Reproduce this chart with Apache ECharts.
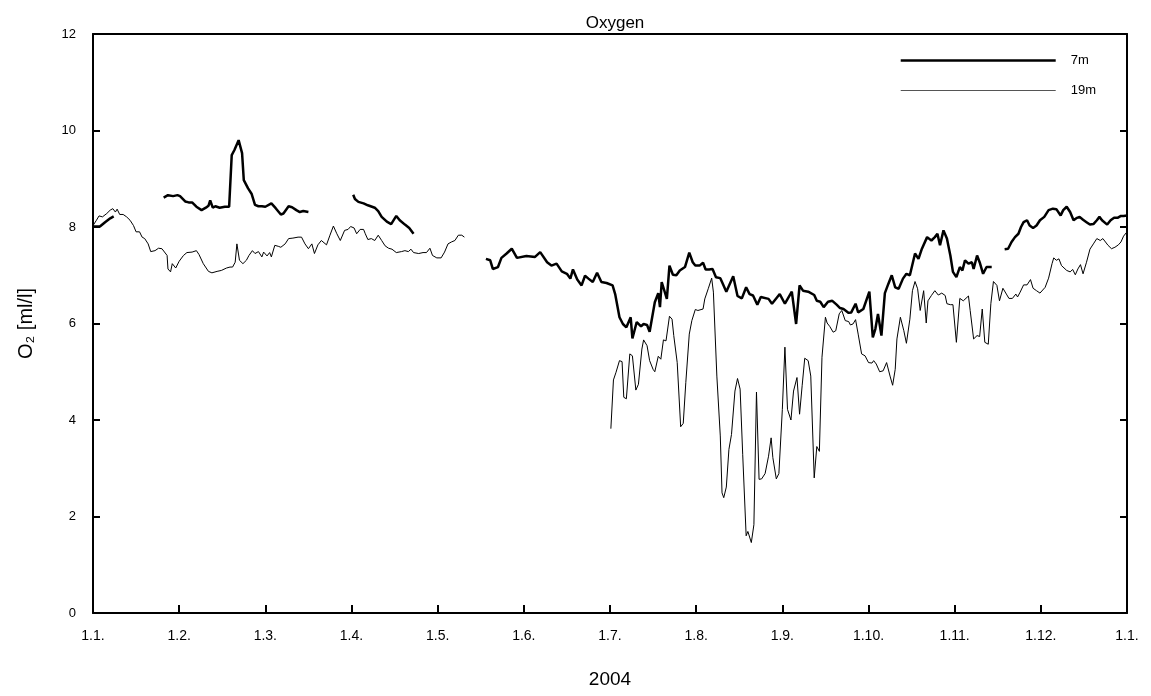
<!DOCTYPE html>
<html>
<head>
<meta charset="utf-8">
<script src="https://cdn.jsdelivr.net/npm/echarts@6/dist/echarts.min.js"></script>
<style>html,body{margin:0;padding:0;background:#fff;}#chart{width:1151px;height:696px;}</style>
</head>
<body>
<div id="chart"></div>
<script>
// x positions are in months since 1 Jan 2004 (axis is evenly spaced by month)
const monthLabels = ['1.1.','1.2.','1.3.','1.4.','1.5.','1.6.','1.7.','1.8.','1.9.','1.10.','1.11.','1.12.','1.1.'];
const yTicks = [0, 2, 4, 6, 8, 10, 12];

// 7 m depth (null = gap in record)
const t7 = [0.00,0.08,0.14,0.20,0.24, 0.50,
 0.82,0.87,0.93,0.98,1.01,1.07,1.11,1.15,1.20,1.26,1.31,1.34,1.36,1.39,1.42,1.47,1.53,1.58,1.61,1.64,1.69,1.73,1.75,1.80,1.84,1.88,1.92,1.96,2.00,2.07,2.12,2.18,2.21,2.27,2.31,2.36,2.40,2.44,2.50, 2.75,
 3.02,3.04,3.08,3.14,3.19,3.27,3.31,3.35,3.41,3.46,3.52,3.56,3.62,3.67,3.72, 4.10,
 4.56,4.61,4.64,4.70,4.74,4.80,4.86,4.92,5.03,5.13,5.19,5.27,5.32,5.38,5.44,5.50,5.54,5.57,5.62,5.67,5.71,5.75,5.80,5.85,5.90,5.96,6.03,6.06,6.11,6.15,6.19,6.24,6.26,6.31,6.36,6.39,6.43,6.46,6.52,6.56,6.58,6.60,6.66,6.69,6.73,6.77,6.81,6.87,6.92,6.96,6.99,7.01,7.04,7.08,7.11,7.15,7.19,7.23,7.28,7.30,7.35,7.43,7.48,7.53,7.58,7.62,7.66,7.71,7.75,7.84,7.88,7.97,8.03,8.11,8.16,8.20,8.24,8.30,8.37,8.40,8.44,8.48,8.53,8.58,8.63,8.67,8.71,8.77,8.80,8.85,8.88,8.94,9.01,9.05,9.08,9.11,9.15,9.19,9.23,9.27,9.31,9.35,9.40,9.44,9.48,9.54,9.58,9.62,9.68,9.73,9.77,9.80,9.83,9.87,9.91,9.95,9.98,10.02,10.06,10.09,10.12,10.16,10.20,10.22,10.26,10.29,10.33,10.37,10.43, 10.50,
 10.58,10.62,10.66,10.70,10.74,10.77,10.80,10.84,10.87,10.91,10.95,10.99,11.04,11.09,11.14,11.18,11.23,11.26,11.30,11.34,11.38,11.42,11.45,11.49,11.53,11.57,11.61,11.65,11.68,11.71,11.73,11.77,11.81,11.85,11.89,11.93,11.96,12.00];
const o2_7m = [8.01,8.01,8.10,8.18,8.22, null,
 8.61,8.66,8.64,8.66,8.64,8.53,8.51,8.51,8.42,8.35,8.40,8.44,8.55,8.40,8.43,8.40,8.42,8.42,9.49,9.59,9.80,9.53,8.97,8.80,8.69,8.46,8.43,8.43,8.42,8.49,8.39,8.26,8.28,8.43,8.41,8.35,8.31,8.33,8.31, null,
 8.67,8.58,8.52,8.49,8.45,8.40,8.33,8.21,8.11,8.06,8.23,8.14,8.05,7.98,7.86, null,
 7.34,7.31,7.13,7.17,7.36,7.45,7.55,7.36,7.40,7.38,7.48,7.27,7.20,7.24,7.08,7.03,6.93,7.12,6.91,6.79,6.99,6.93,6.86,7.05,6.86,6.84,6.79,6.61,6.13,5.99,5.92,6.13,5.69,6.03,5.94,5.99,5.97,5.83,6.44,6.63,6.34,6.86,6.51,7.20,7.01,7.00,7.10,7.17,7.47,7.27,7.20,7.24,7.20,7.26,7.12,7.12,7.13,6.96,6.94,6.86,6.66,6.98,6.57,6.52,6.75,6.61,6.58,6.39,6.55,6.51,6.41,6.61,6.41,6.66,5.99,6.79,6.68,6.66,6.59,6.47,6.45,6.34,6.45,6.47,6.39,6.32,6.30,6.22,6.23,6.41,6.23,6.30,6.66,5.71,5.89,6.20,5.75,6.63,6.82,7.00,6.75,6.72,6.93,7.03,7.00,7.45,7.34,7.55,7.79,7.72,7.79,7.86,7.62,7.93,7.76,7.41,7.07,6.96,7.17,7.10,7.31,7.24,7.27,7.13,7.41,7.27,7.03,7.17,7.17, null,
 7.54,7.55,7.69,7.79,7.86,8.00,8.10,8.14,8.03,7.98,8.03,8.14,8.21,8.35,8.38,8.37,8.24,8.35,8.42,8.31,8.14,8.19,8.21,8.15,8.10,8.05,8.06,8.14,8.21,8.14,8.16,8.05,8.14,8.19,8.19,8.23,8.23,8.24];

// 19 m depth
const t19 = [0.00,0.04,0.07,0.11,0.16,0.20,0.23,0.26,0.28,0.31,0.35,0.39,0.43,0.47,0.50,0.54,0.57,0.60,0.64,0.67,0.72,0.76,0.80,0.82,0.86,0.87,0.90,0.92,0.96,1.00,1.05,1.09,1.15,1.20,1.23,1.28,1.34,1.38,1.44,1.49,1.55,1.59,1.62,1.65,1.67,1.70,1.74,1.78,1.81,1.85,1.88,1.92,1.96,1.98,2.02,2.05,2.07,2.11,2.15,2.18,2.23,2.27,2.32,2.38,2.42,2.46,2.50,2.54,2.57,2.61,2.65,2.67,2.71,2.75,2.79,2.83,2.87,2.89,2.92,2.96,2.99,3.03,3.06,3.10,3.14,3.16,3.19,3.23,3.27,3.31,3.35,3.39,3.43,3.47,3.52,3.58,3.62,3.66,3.69,3.72,3.74,3.78,3.83,3.87,3.91,3.94,3.99,4.04,4.08,4.12,4.16,4.20,4.24,4.28,4.31, 5.00,
 6.01,6.04,6.07,6.11,6.14,6.16,6.19,6.23,6.26,6.30,6.33,6.37,6.39,6.43,6.46,6.50,6.52,6.56,6.59,6.62,6.65,6.69,6.72,6.74,6.78,6.82,6.85,6.88,6.92,6.95,6.99,7.02,7.08,7.10,7.14,7.18,7.20,7.24,7.28,7.30,7.32,7.35,7.38,7.41,7.45,7.48,7.51,7.54,7.58,7.60,7.64,7.67,7.70,7.73,7.76,7.80,7.84,7.87,7.89,7.93,7.96,8.00,8.03,8.06,8.10,8.13,8.17,8.20,8.23,8.26,8.30,8.33,8.37,8.40,8.43,8.46,8.50,8.52,8.55,8.59,8.62,8.66,8.69,8.73,8.77,8.79,8.82,8.85,8.88,8.92,8.96,9.00,9.04,9.06,9.09,9.13,9.17,9.21,9.25,9.28,9.31,9.33,9.37,9.41,9.44,9.48,9.51,9.54,9.57,9.60,9.64,9.67,9.69,9.73,9.77,9.81,9.85,9.89,9.91,9.95,9.98,10.02,10.06,10.10,10.12,10.16,10.18,10.22,10.26,10.29,10.32,10.35,10.39,10.42,10.45,10.49,10.52,10.56,10.60,10.63,10.67,10.71,10.73,10.76,10.80,10.84,10.88,10.91,10.95,10.99,11.05,11.09,11.13,11.15,11.18,11.21,11.24,11.26,11.30,11.34,11.37,11.40,11.43,11.46,11.49,11.53,11.57,11.61,11.65,11.69,11.72,11.78,11.82,11.86,11.90,11.93,11.96,12.00];
const o2_19m = [8.03,8.14,8.23,8.21,8.28,8.35,8.38,8.31,8.37,8.26,8.26,8.21,8.14,8.03,7.90,7.90,7.79,7.76,7.65,7.49,7.51,7.56,7.55,7.54,7.41,7.13,7.07,7.24,7.15,7.29,7.41,7.47,7.48,7.51,7.43,7.24,7.08,7.05,7.08,7.10,7.15,7.17,7.17,7.27,7.65,7.31,7.24,7.31,7.41,7.51,7.45,7.49,7.38,7.48,7.40,7.47,7.38,7.62,7.60,7.58,7.65,7.76,7.77,7.79,7.79,7.65,7.55,7.65,7.45,7.63,7.72,7.72,7.63,7.83,8.02,7.86,7.72,7.70,7.93,7.95,8.01,7.98,7.86,7.95,7.95,7.86,7.74,7.76,7.72,7.83,7.72,7.61,7.56,7.54,7.47,7.49,7.51,7.49,7.54,7.47,7.49,7.45,7.47,7.47,7.56,7.41,7.36,7.36,7.48,7.65,7.69,7.72,7.83,7.83,7.79, null,
 3.82,4.83,4.99,5.23,5.21,4.47,4.44,5.37,5.33,4.62,4.74,5.47,5.66,5.54,5.23,5.05,5.00,5.32,5.26,5.66,5.64,6.15,6.09,5.75,5.19,3.86,3.93,4.78,5.78,6.06,6.29,6.27,6.30,6.51,6.72,6.94,6.65,4.91,3.67,2.49,2.39,2.61,3.39,3.70,4.60,4.86,4.64,3.29,1.60,1.69,1.46,1.83,4.58,2.77,2.78,2.89,3.25,3.63,3.22,2.78,2.89,4.22,5.51,4.22,4.00,4.60,4.88,4.12,4.71,5.28,5.23,4.91,2.80,3.45,3.35,5.30,6.13,6.01,5.94,5.82,5.85,6.20,6.27,6.06,6.04,5.97,5.99,6.08,5.78,5.37,5.33,5.19,5.18,5.23,5.16,5.00,5.02,5.19,4.91,4.72,5.05,5.68,6.13,5.85,5.59,6.09,6.68,6.87,6.72,6.27,6.68,6.01,6.47,6.58,6.68,6.59,6.63,6.58,6.41,6.39,6.39,5.61,6.52,6.47,6.51,6.57,6.27,5.68,5.75,5.73,6.30,5.61,5.57,6.41,6.87,6.79,6.47,6.73,6.61,6.52,6.52,6.61,6.55,6.65,6.80,6.80,6.91,6.73,6.68,6.63,6.75,6.94,7.24,7.36,7.31,7.34,7.20,7.24,7.10,7.07,7.12,7.01,7.13,7.22,7.03,7.27,7.54,7.65,7.76,7.72,7.76,7.62,7.55,7.58,7.63,7.69,7.81,7.90];

const FONT = "'Liberation Sans', Arial, sans-serif";
const pairs = (t, v) => t.map((x, i) => [x, v[i]]);

const chart = echarts.init(document.getElementById('chart'), null, {renderer: 'canvas'});
chart.setOption({
  animation: false,
  backgroundColor: '#fff',
  textStyle: {fontFamily: FONT, color: '#000'},
  title: {
    text: 'Oxygen', left: 610, top: 10, textAlign: 'center',
    textStyle: {fontFamily: FONT, fontSize: 17, fontWeight: 'normal', color: '#000'}
  },
  legend: {
    orient: 'vertical', right: 50, top: 49,
    itemWidth: 155, itemHeight: 12, itemGap: 17,
    itemStyle: {opacity: 0},
    textStyle: {fontFamily: FONT, fontSize: 13, color: '#000', padding: [0, 0, 0, 10]},
    data: [
      {name: '7m', lineStyle: {color: '#000', width: 2.5}},
      {name: '19m', lineStyle: {color: '#555', width: 1}}
    ]
  },
  grid: {left: 93, right: 24, top: 34, bottom: 83},
  xAxis: [{
    type: 'value', min: 0, max: 12, interval: 1, position: 'bottom',
    name: '2004', nameLocation: 'middle', nameGap: 57,
    nameTextStyle: {fontFamily: FONT, fontSize: 19, color: '#000'},
    axisLine: {show: true, onZero: false, lineStyle: {color: '#000', width: 2}},
    axisTick: {show: true, inside: true, length: 8, lineStyle: {color: '#000', width: 2}},
    axisLabel: {
      margin: 16, fontFamily: FONT, fontSize: 14, color: '#000',
      showMinLabel: true, showMaxLabel: true,
      formatter: v => monthLabels[Math.round(v)]
    },
    splitLine: {show: false}
  }, {
    type: 'value', min: 0, max: 12, position: 'top',
    axisLine: {show: true, onZero: false, lineStyle: {color: '#000', width: 2}},
    axisTick: {show: false}, axisLabel: {show: false}, splitLine: {show: false}
  }],
  yAxis: [{
    type: 'value', min: yTicks[0], max: yTicks[yTicks.length - 1], interval: 2, position: 'left',
    name: 'O₂ [ml/l]', nameLocation: 'middle', nameGap: 57, nameRotate: 90,
    nameTextStyle: {fontFamily: FONT, fontSize: 20, color: '#000'},
    axisLine: {show: true, onZero: false, lineStyle: {color: '#000', width: 2}},
    axisTick: {show: true, inside: true, length: 7, lineStyle: {color: '#000', width: 2}},
    axisLabel: {margin: 17, fontFamily: FONT, fontSize: 13, color: '#000', showMinLabel: true, showMaxLabel: true},
    splitLine: {show: false}
  }, {
    type: 'value', min: yTicks[0], max: yTicks[yTicks.length - 1], interval: 2, position: 'right',
    axisLine: {show: true, onZero: false, lineStyle: {color: '#000', width: 2}},
    axisTick: {show: true, inside: true, length: 7, lineStyle: {color: '#000', width: 2}},
    axisLabel: {show: false}, splitLine: {show: false}
  }],
  series: [{
    name: '7m', type: 'line', xAxisIndex: 0, yAxisIndex: 0,
    data: pairs(t7, o2_7m), showSymbol: false, symbol: 'none', connectNulls: false,
    lineStyle: {color: '#000', width: 2.5}, itemStyle: {color: '#000'}, z: 3
  }, {
    name: '19m', type: 'line', xAxisIndex: 0, yAxisIndex: 0,
    data: pairs(t19, o2_19m), showSymbol: false, symbol: 'none', connectNulls: false,
    lineStyle: {color: '#000', width: 1}, itemStyle: {color: '#000'}, z: 2
  }]
});
</script>
</body>
</html>
